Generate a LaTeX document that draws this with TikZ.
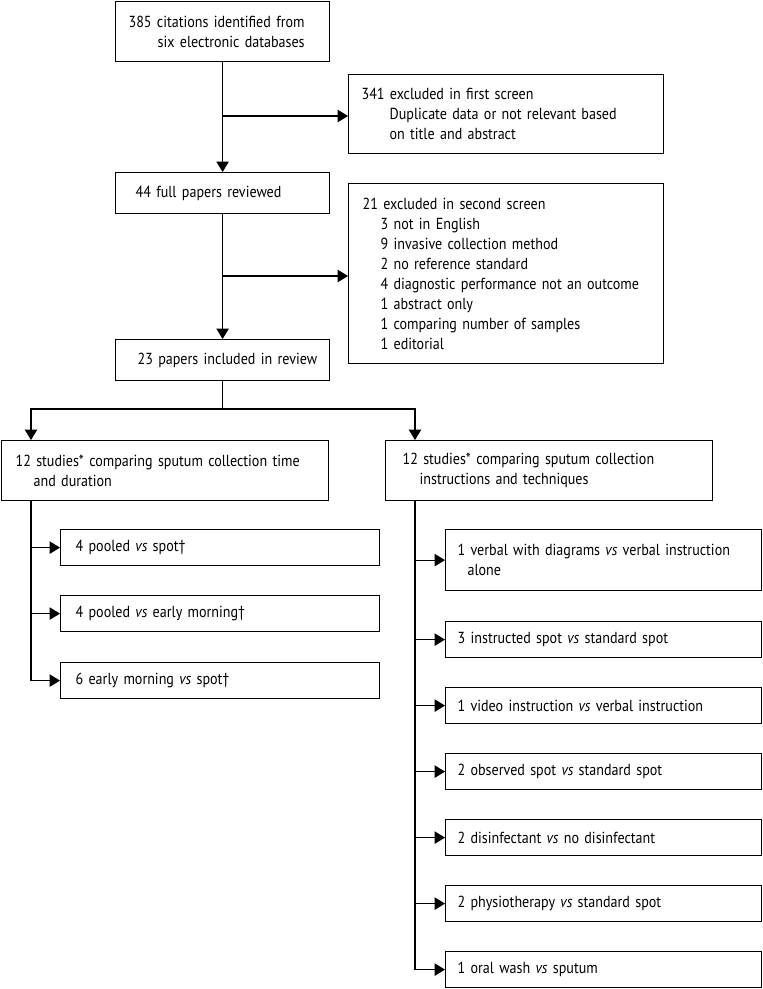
\documentclass[tikz,border=0pt]{standalone}
\usepackage{fontspec}
\setmainfont{PT Sans}[FakeStretch=0.88, WordSpace=0.75]
\usetikzlibrary{arrows.meta,calc}
\tikzset{
  bx/.style={draw, line width=1.2pt, rectangle, anchor=north west, align=left,
    font=\fontsize{16}{20}\selectfont, inner ysep=0pt},
  arr/.style={line width=1.2pt, -{Triangle[length=10.5pt,width=12.5pt]}},
  ln/.style={line width=1.2pt},
}
\newcommand{\ind}[1]{\hspace*{#1pt}}
\begin{document}
\begin{tikzpicture}[x=1pt,y=-1pt]
\useasboundingbox (0,0) rectangle (763,989);
% main column
\node[bx, inner xsep=13pt, text width=188pt, minimum height=60pt] (b1) at (115,1)
  {385 citations identified from\\\ind{29}six electronic databases};
\node[bx, inner xsep=20pt, text width=174pt, minimum height=41pt] (b2) at (115,172)
  {44 full papers reviewed};
\node[bx, inner xsep=22pt, text width=170pt, minimum height=41pt] (b3) at (115,339)
  {\mbox{23 papers included in review}};
% exclusions
\node[bx, inner xsep=13pt, text width=289pt, minimum height=79pt] (e1) at (348,74)
  {341 excluded in first screen\\\ind{28}Duplicate data or not relevant based\\\ind{28}on title and abstract};
\node[bx, inner xsep=14pt, text width=287pt, minimum height=180pt] (e2) at (348,183)
  {21 excluded in second screen\\\ind{18}3 not in English\\\ind{18}9 invasive collection method\\\ind{18}2 no reference standard\\\ind{18}4 diagnostic performance not an outcome\\\ind{18}1 abstract only\\\ind{18}1 comparing number of samples\\\ind{18}1 editorial};
% second level
\node[bx, inner xsep=14pt, text width=299pt, minimum height=60pt] (L) at (1,440)
  {12 studies* comparing sputum collection time\\\ind{18}and duration};
\node[bx, inner xsep=17pt, text width=293pt, minimum height=60pt] (R) at (385,440)
  {12 studies* comparing sputum collection\\\ind{17}instructions and techniques};
% left leaves
\node[bx, inner xsep=15pt, text width=289pt, minimum height=36pt] (p1) at (60,529) {4 pooled \textit{vs} spot†};
\node[bx, inner xsep=15pt, text width=289pt, minimum height=36pt] (p2) at (60,595) {4 pooled \textit{vs} early morning†};
\node[bx, inner xsep=15pt, text width=289pt, minimum height=36pt] (p3) at (60,662) {6 early morning \textit{vs} spot†};
% right leaves
\node[bx, inner xsep=12pt, text width=292pt, minimum height=61pt] (r1) at (445,529)
  {1 verbal with diagrams \textit{vs} verbal instruction\\\ind{10}alone};
\node[bx, inner xsep=12pt, text width=292pt, minimum height=36pt] (r2) at (445,621) {3 instructed spot \textit{vs} standard spot};
\node[bx, inner xsep=12pt, text width=292pt, minimum height=36pt] (r3) at (445,687) {1 video instruction \textit{vs} verbal instruction};
\node[bx, inner xsep=12pt, text width=292pt, minimum height=36pt] (r4) at (445,753) {2 observed spot \textit{vs} standard spot};
\node[bx, inner xsep=12pt, text width=292pt, minimum height=36pt] (r5) at (445,819) {2 disinfectant \textit{vs} no disinfectant};
\node[bx, inner xsep=12pt, text width=292pt, minimum height=36pt] (r6) at (445,885) {2 physiotherapy \textit{vs} standard spot};
\node[bx, inner xsep=12pt, text width=292pt, minimum height=36pt] (r7) at (445,951) {1 oral wash \textit{vs} sputum};
% connectors main
\draw[arr] (b1) -- (b2);
\coordinate (m1) at (b1.south |- 0,116);
\draw[arr] (m1) -- (m1 -| e1.west);
\draw[arr] (b2) -- (b3);
\coordinate (m2) at (b2.south |- 0,276);
\draw[arr] (m2) -- (m2 -| e2.west);
\coordinate (j) at (b3.south |- 0,409);
\draw[ln] (b3.south) -- (j);
\coordinate (tl) at ([xshift=30pt]L.south west);
\coordinate (tr) at ([xshift=30pt]R.south west);
\draw[arr] (j) -| (tl |- L.north);
\draw[arr] (j) -| (tr |- R.north);
% left trunk
\draw[arr] (tl) |- (p3.west);
\draw[arr] (tl |- p1.west) -- (p1.west);
\draw[arr] (tl |- p2.west) -- (p2.west);
% right trunk
\draw[arr] (tr) |- (r7.west);
\foreach \n in {r1,r2,r3,r4,r5,r6}
  \draw[arr] (tr |- \n.west) -- (\n.west);
\end{tikzpicture}
\end{document}
